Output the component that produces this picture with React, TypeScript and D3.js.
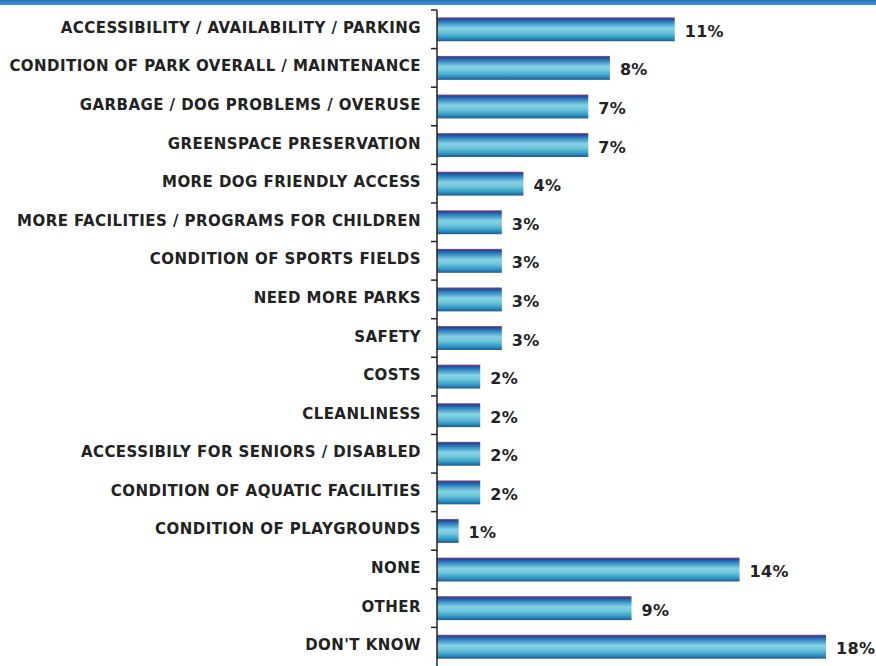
import React from "react";
import * as d3 from "d3";

const categories = [
  "ACCESSIBILITY / AVAILABILITY / PARKING",
  "CONDITION OF PARK OVERALL / MAINTENANCE",
  "GARBAGE / DOG PROBLEMS / OVERUSE",
  "GREENSPACE PRESERVATION",
  "MORE DOG FRIENDLY ACCESS",
  "MORE FACILITIES / PROGRAMS FOR CHILDREN",
  "CONDITION OF SPORTS FIELDS",
  "NEED MORE PARKS",
  "SAFETY",
  "COSTS",
  "CLEANLINESS",
  "ACCESSIBILY FOR SENIORS / DISABLED",
  "CONDITION OF AQUATIC FACILITIES",
  "CONDITION OF PLAYGROUNDS",
  "NONE",
  "OTHER",
  "DON'T KNOW",
];
const values = [11, 8, 7, 7, 4, 3, 3, 3, 3, 2, 2, 2, 2, 1, 14, 9, 18];

const W = 876;
const H = 666;
const axisX = 437;

export default function App() {
  const x = d3.scaleLinear().domain([0, 18]).range([axisX, 826]);
  const y = d3.scaleBand().domain(categories).range([10, 666]).paddingInner(0.38).paddingOuter(0.19);
  const yOuter = d3.scaleBand().domain(categories).range([10, 666]);
  const bh = y.bandwidth();
  return (
    <svg width={W} height={H} style={{ position: "absolute", left: 0, top: 0 }}>
      <defs>
        <linearGradient id="barg" x1="0" y1="0" x2="0" y2="1">
          <stop offset="0%" stopColor="#b04a78" />
          <stop offset="6%" stopColor="#24469a" />
          <stop offset="20%" stopColor="#2f82c0" />
          <stop offset="45%" stopColor="#86d2e4" />
          <stop offset="62%" stopColor="#70c6dc" />
          <stop offset="84%" stopColor="#339bc4" />
          <stop offset="100%" stopColor="#1c5896" />
        </linearGradient>
        <linearGradient id="topg" x1="0" y1="0" x2="0" y2="1">
          <stop offset="0%" stopColor="#2570b8" />
          <stop offset="100%" stopColor="#3a98d6" />
        </linearGradient>
      </defs>
      <rect x={0} y={0} width={W} height={H} fill="#ffffff" />
      <rect x={0} y={0} width={W} height={5} fill="url(#topg)" />
      {categories.map((c, i) => (
        <g key={c}>
          <rect
            x={x(0)}
            y={y(c)!}
            width={x(values[i]) - x(0)}
            height={bh}
            fill="url(#barg)"
          />
          <text
            x={x(values[i]) + 10}
            y={y(c)! + bh / 2 + 3}
            dominantBaseline="middle"
            fontFamily="'DejaVu Sans', Verdana, sans-serif"
            fontWeight="bold"
            fontSize={16}
            letterSpacing={0.3}
            fill="#222"
          >
            {values[i]}%
          </text>
          <text
            x={axisX - 16}
            y={y(c)! + bh / 2 - 1}
            dominantBaseline="middle"
            textAnchor="end"
            fontFamily="'DejaVu Sans', Verdana, sans-serif"
            fontWeight="bold"
            fontSize={15}
            letterSpacing={0.45}
            fill="#222"
          >
            {c}
          </text>
        </g>
      ))}
      <line x1={axisX} x2={axisX} y1={10} y2={H} stroke="#222" strokeWidth={1.5} />
      {categories.map((c) => (
        <line
          key={"t" + c}
          x1={axisX - 6}
          x2={axisX}
          y1={yOuter(c)!}
          y2={yOuter(c)!}
          stroke="#222"
          strokeWidth={1.5}
        />
      ))}
    </svg>
  );
}
